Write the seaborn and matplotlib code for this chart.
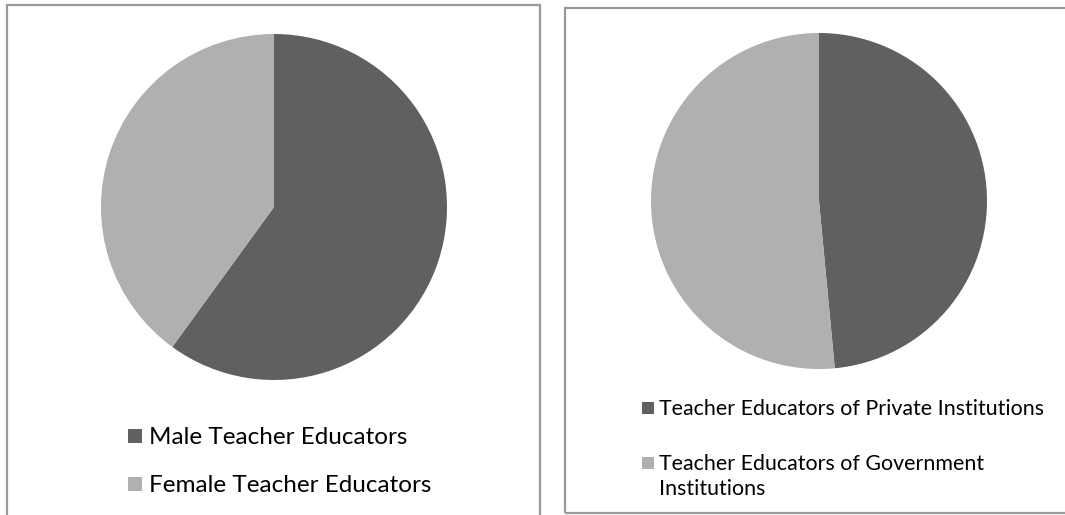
import matplotlib
matplotlib.use("Agg")
import matplotlib.pyplot as plt
import seaborn as sns
from matplotlib.patches import Rectangle

# ---- data ----
gender_labels = ["Male Teacher Educators", "Female Teacher Educators"]
gender_values = [60, 40]
inst_labels = ["Teacher Educators of Private Institutions",
               "Teacher Educators of Government\nInstitutions"]
inst_values = [48.5, 51.5]
colors = ["#606060", "#b0b0b0"]

sns.set_theme(style="white")
plt.rcParams['font.family'] = ['Lato', 'DejaVu Sans']

W, H = 1065, 515
fig = plt.figure(figsize=(W / 100, H / 100), dpi=100)
fig.patch.set_facecolor('white')


def fx(x):
    return x / W


def fy(y):
    return 1 - y / H


def add_axes_px(left, top, size):
    return fig.add_axes([fx(left), fy(top + size), size / W, size / H])


def box(x0, y0, x1, y1):
    fig.patches.append(Rectangle((fx(x0), fy(y1)), (x1 - x0) / W, (y1 - y0) / H,
                                 transform=fig.transFigure, fill=False,
                                 edgecolor='#9a9a9a', linewidth=1.6))


def square(xc, yc, s, col):
    fig.patches.append(Rectangle((fx(xc - s / 2), fy(yc + s / 2)), s / W, s / H,
                                 transform=fig.transFigure, facecolor=col,
                                 edgecolor='none'))


# panel frames
box(7, 5, 540, 540)
box(565, 8, 1090, 513)

# left pie
ax1 = add_axes_px(101, 34, 346)
ax1.pie(gender_values, colors=colors, startangle=90, counterclock=False,
        wedgeprops=dict(linewidth=0))
ax1.set_xlim(-1, 1)
ax1.set_ylim(-1, 1)
ax1.axis('off')

# right pie
ax2 = add_axes_px(651, 33, 336)
ax2.pie(inst_values, colors=colors, startangle=90, counterclock=False,
        wedgeprops=dict(linewidth=0))
ax2.set_xlim(-1, 1)
ax2.set_ylim(-1, 1)
ax2.axis('off')

# left legend
for i, (lab, col) in enumerate(zip(gender_labels, colors)):
    yc = 436 + 48 * i
    square(135, yc, 14, col)
    fig.text(fx(149), fy(yc + 8.5), lab, fontsize=17.5, va='baseline', ha='left',
             color='black')

# right legend
row_y = [408, 463]
for i, (lab, col) in enumerate(zip(inst_labels, colors)):
    yc = row_y[i]
    square(648, yc, 12, col)
    for j, line in enumerate(lab.split("\n")):
        fig.text(fx(659), fy(yc + 7 + 25 * j), line, fontsize=15.4,
                 va='baseline', ha='left', color='black')

fig.savefig("out.png", dpi=100)
